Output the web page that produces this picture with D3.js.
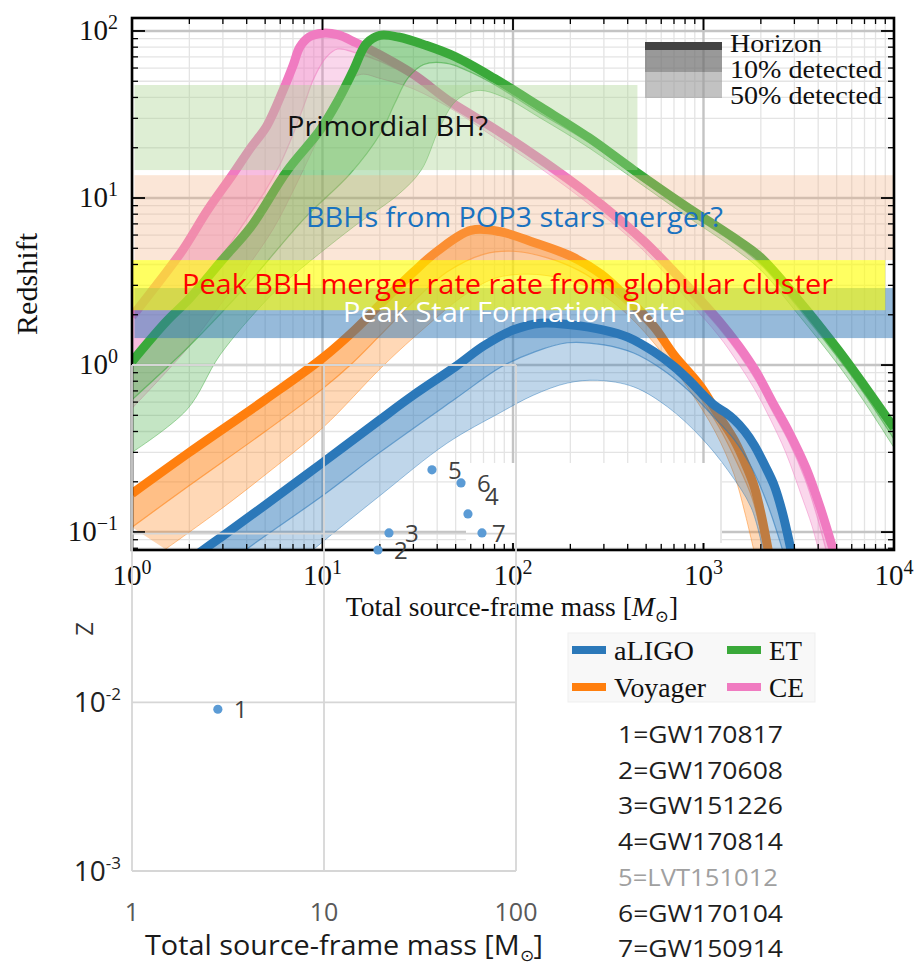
<!DOCTYPE html>
<html><head><meta charset="utf-8">
<script src="https://cdn.jsdelivr.net/npm/d3@7"></script>
<style>body{margin:0;background:#fff}svg{display:block}</style>
</head><body>
<svg id="c" width="915" height="967"></svg>
<script>
// ---------------- DATA ----------------
const massTickValues = [1, 10, 100, 1000, 10000];
const zTickValues = [0.1, 1, 10, 100];
const excelMassTicks = [1, 10, 100];
const excelZTicks = [0.001, 0.01, 0.1, 1];
const excelMassLabels = ["1", "10", "100"];

const detectors = ["aLIGO", "Voyager", "ET", "CE"];

// aLIGO
const aligoHorizonM = [2,3,5,10,20,30,50,70,100,140,200,300,400,550,700,850,1000,1150,1300,1450,1650,1850,2100,2350,2600,2900];
const aligoHorizonZ = [0.068,0.095,0.145,0.26,0.47,0.66,0.98,1.3,1.62,1.78,1.74,1.62,1.47,1.2,0.98,0.8,0.66,0.57,0.52,0.47,0.4,0.33,0.25,0.19,0.13,0.075];
const aligo10M = [2.5,4,10,20,50,86,130,193,300,430,600,826,1130,1443,1800,2200,2600];
const aligo10Z = [0.052,0.079,0.165,0.3,0.63,0.97,1.2,1.36,1.32,1.18,0.95,0.71,0.49,0.36,0.24,0.14,0.078];
const aligo50M = [5,9,20,45,86,128,193,278,430,650,968,1340,1780,2050];
const aligo50Z = [0.045,0.079,0.165,0.34,0.52,0.66,0.78,0.81,0.74,0.56,0.37,0.235,0.14,0.078];

// Voyager
const voyHorizonM = [1,2,5,10,15,20,30,40,60,85,130,200,290,400,550,700,970,1200,1450,1700,1850,2000,2200];
const voyHorizonZ = [0.17,0.3,0.62,1.1,1.65,2.3,3.6,4.8,6.4,6.3,5.4,4.5,3.5,2.5,1.7,1.15,0.74,0.5,0.355,0.24,0.186,0.13,0.075];
const voy10M = [1,2,5,10,14,20,30,45,70,100,150,220,320,450,650,900,1200,1500,1800,2100];
const voy10Z = [0.107,0.19,0.4,0.72,1.0,1.5,2.4,3.6,4.6,4.8,4.4,3.7,2.8,2.0,1.25,0.72,0.43,0.26,0.16,0.078];
const voy50M = [1.5,3,5,10,21,35,55,80,120,180,270,400,600,850,1150,1450,1650,1850];
const voy50Z = [0.079,0.14,0.22,0.42,1.0,1.7,2.6,3.3,3.5,3.3,2.8,2.0,1.2,0.7,0.4,0.22,0.13,0.075];

// ET
const etHorizonM = [1,1.5,2,3,4.2,6.5,9.7,12,14.5,17,20,25,35,50,80,140,250,430,800,1440,2000,3150,5100,7000,10000];
const etHorizonZ = [1.05,1.8,2.5,4.3,6.7,14.5,25.5,38,58,84,94,92,82,70,52,35,23,14.7,9.0,5.8,4.4,2.45,1.23,0.75,0.42];
const et10M = [1,2,4,8,14,20,24,28,34,45,70,140,250,430,800,1440,2000,3150,5100,7000,10000];
const et10Z = [0.62,1.3,3.0,7.5,14,24,37,52,63,64,52,32,21.5,13.8,8.4,5.4,4.0,2.2,1.1,0.67,0.36];
const et50M = [1,1.94,2.9,5,6.5,14.5,25,33,41,50,65,90,140,250,430,800,1440,2000,3150,5100,7000,10000];
const et50Z = [0.3,0.54,1.15,2.4,3.2,6.7,10.5,14.7,26,38,44,40,30,20,13,7.9,5.0,3.7,2.0,1.0,0.6,0.32];

// CE
const ceHorizonM = [1,1.4,1.85,2.5,3.4,4.2,5.1,6.2,7,7.6,8.5,10,12,15,20,30,48,80,140,250,480,840,1200,1530,1900,2300,2800,3460,4100,4800];
const ceHorizonZ = [1.95,3.2,4.9,8.5,14,20,27,44,62,80,92,97,95,85,72,55,37,26,17,10.5,5.6,2.9,1.85,1.3,0.9,0.6,0.4,0.24,0.14,0.078];
const ce10M = [1,1.5,2,3,4,5,6,7,8,9,10.5,12,15,20,30,50,80,140,250,480,840,1200,1530,1900,2300,2800,3400,3900,4400];
const ce10Z = [1.1,1.7,2.5,4.6,7.5,11,16,24,36,52,70,78,74,66,52,35,24.5,15.8,9.8,5.2,2.65,1.68,1.17,0.8,0.53,0.35,0.21,0.13,0.078];
const ce50M = [1,1.5,2,3,4,5.5,7,9,11,13,16,20,30,50,80,140,250,480,840,1200,1500,1850,2250,2700,3300,3700,4050];
const ce50Z = [0.55,0.9,1.3,2.4,3.8,6.5,11,20,33,48,55,52,45,33,23,15,9.2,4.9,2.4,1.5,1.05,0.72,0.47,0.3,0.16,0.11,0.075];

// Events (Excel overlay)
const eventIds = ["1","2","3","4","5","6","7"];
const eventNames = ["GW170817","GW170608","GW151226","GW170814","LVT151012","GW170104","GW150914"];
const eventMass = [2.8, 19.1, 21.8, 56.2, 36.5, 51.7, 66.5];
const eventZ = [0.0091, 0.080, 0.101, 0.131, 0.239, 0.20, 0.101];

// Annotation bands (redshift ranges)
const bandLabels = ["Primordial BH?", "BBHs from POP3 stars merger?", "Peak BBH merger rate rate from globular cluster", "Peak Star Formation Rate"];
const bandZ = [[14.7, 47.5], [4.25, 13.7], [2.13, 4.25], [1.45, 2.89]];
const bandM = [[1.03, 450], [1.03, 9900], [1.0, 9000], [1.03, 9900]];

const legendLevels = ["Horizon", "10% detected", "50% detected"];

// ---------------- DRAW ----------------
const svg = d3.select("#c");
const plot = {l:132, t:18, r:894, b:550};
const xM = d3.scaleLog().domain([1, 1e4]).range([plot.l, plot.r]);
const yM = d3.scaleLog().domain([0.0781, 119.6]).range([plot.b, plot.t]);
const xE = d3.scaleLog().domain([1, 100]).range([132, 516]);
const yE = d3.scaleLog().domain([0.001, 1]).range([871, 365]);

const serif = "'Liberation Serif','DejaVu Serif',serif";
const sans = "'Open Sans','Noto Sans',sans-serif";

svg.append("rect").attr("width",915).attr("height",967).attr("fill","#fff");
svg.append("defs").append("clipPath").attr("id","clipMain").append("rect")
  .attr("x",plot.l).attr("y",plot.t).attr("width",plot.r-plot.l).attr("height",plot.b-plot.t);

const xMinor = [], yMinor = [];
massTickValues.slice(0,-1).forEach(v => { for (let m=2;m<=9;m++) xMinor.push(v*m); });
[0.01,0.1,1,10,100].forEach(v => { for (let m=2;m<=9;m++){ const t=v*m; if(t>=0.0781 && t<=119.6) yMinor.push(t);} });

// grid
const grid = svg.append("g").attr("clip-path","url(#clipMain)");
grid.selectAll(".gxm").data(xMinor).join("line").attr("x1",d=>xM(d)).attr("x2",d=>xM(d)).attr("y1",plot.t).attr("y2",plot.b).attr("stroke","#e4e4e4").attr("stroke-width",1.3);
grid.selectAll(".gym").data(yMinor).join("line").attr("y1",d=>yM(d)).attr("y2",d=>yM(d)).attr("x1",plot.l).attr("x2",plot.r).attr("stroke","#e4e4e4").attr("stroke-width",1.3);
grid.selectAll(".gxM").data(massTickValues).join("line").attr("x1",d=>xM(d)).attr("x2",d=>xM(d)).attr("y1",plot.t).attr("y2",plot.b).attr("stroke","#c4c4c4").attr("stroke-width",2.4);
grid.selectAll(".gyM").data(zTickValues).join("line").attr("y1",d=>yM(d)).attr("y2",d=>yM(d)).attr("x1",plot.l).attr("x2",plot.r).attr("stroke","#c4c4c4").attr("stroke-width",2.4);

// curves
const line = d3.line().x(d=>xM(d[0])).y(d=>yM(d[1])).curve(d3.curveCatmullRom.alpha(0.5));
const pts = (M,Z) => M.map((m,i)=>[m,Z[i]]);
const poly = (a,b) => line(a) + line(b.slice().reverse()).replace(/^M/,"L") + "Z";

const detData = {
  aLIGO:   {h:pts(aligoHorizonM,aligoHorizonZ), d10:pts(aligo10M,aligo10Z), d50:pts(aligo50M,aligo50Z)},
  Voyager: {h:pts(voyHorizonM,voyHorizonZ),     d10:pts(voy10M,voy10Z),     d50:pts(voy50M,voy50Z)},
  ET:      {h:pts(etHorizonM,etHorizonZ),       d10:pts(et10M,et10Z),       d50:pts(et50M,et50Z)},
  CE:      {h:pts(ceHorizonM,ceHorizonZ),       d10:pts(ce10M,ce10Z),       d50:pts(ce50M,ce50Z)}
};
const detColor = {aLIGO:"#2b78b9", Voyager:"#ff7f0e", ET:"#3aa93a", CE:"#f07bc1"};
const curves = svg.append("g").attr("clip-path","url(#clipMain)");
["CE","ET","Voyager","aLIGO"].forEach(k => {
  const d = detData[k], c = detColor[k];
  const g = curves.append("g");
  g.append("path").attr("d", poly(d.d10, d.d50)).attr("fill", c).attr("fill-opacity", 0.3);
  g.append("path").attr("d", poly(d.h, d.d10)).attr("fill", c).attr("fill-opacity", 0.5);
  g.append("path").attr("d", line(d.d50)).attr("fill","none").attr("stroke",c).attr("stroke-opacity",0.45).attr("stroke-width",1);
  g.append("path").attr("d", line(d.d10)).attr("fill","none").attr("stroke",c).attr("stroke-opacity",0.6).attr("stroke-width",1.2);
  g.append("path").attr("d", line(d.h)).attr("fill","none").attr("stroke",c).attr("stroke-width",9);
});

// annotation rectangles
const bandFill = ["#a9d18e", "#f4b183", "#ffff00", "#2e75b6"];
const bandOp = [0.38, 0.32, 0.62, 0.5];
[0, 1, 3, 2].forEach(i => {
  svg.append("rect").attr("x", xM(bandM[i][0])).attr("width", xM(bandM[i][1]) - xM(bandM[i][0]))
    .attr("y", yM(bandZ[i][1])).attr("height", yM(bandZ[i][0]) - yM(bandZ[i][1]))
    .attr("fill", bandFill[i]).attr("fill-opacity", bandOp[i]);
});
const bandText = [
  {x:287, y:136, w:201, c:"#111"},
  {x:306, y:227, w:417, c:"#1a72c0"},
  {x:182, y:294, w:651, c:"#ff0000"},
  {x:343, y:322, w:342, c:"#ffffff"}
];
[3, 0, 1, 2].forEach(i => {
  svg.append("text").attr("x", bandText[i].x).attr("y", bandText[i].y)
    .attr("font-family", sans).attr("font-size", 27).attr("fill", bandText[i].c)
    .attr("textLength", bandText[i].w).attr("lengthAdjust","spacingAndGlyphs").text(bandLabels[i]);
});

// frame and ticks
const ax = svg.append("g").attr("stroke","#000");
const tick = (vals, scale, horiz, len, w) => {
  vals.forEach(v => {
    const p = scale(v);
    if (horiz) {
      ax.append("line").attr("x1",p).attr("x2",p).attr("y1",plot.b).attr("y2",plot.b-len).attr("stroke-width",w);
      ax.append("line").attr("x1",p).attr("x2",p).attr("y1",plot.t).attr("y2",plot.t+len).attr("stroke-width",w);
    } else {
      ax.append("line").attr("y1",p).attr("y2",p).attr("x1",plot.l).attr("x2",plot.l+len).attr("stroke-width",w);
      ax.append("line").attr("y1",p).attr("y2",p).attr("x1",plot.r).attr("x2",plot.r-len).attr("stroke-width",w);
    }
  });
};
tick(xMinor, xM, true, 6, 1.3);
tick(massTickValues, xM, true, 12, 1.8);
tick(yMinor, yM, false, 6, 1.3);
tick(zTickValues, yM, false, 13, 1.8);
svg.append("rect").attr("x",plot.l).attr("y",plot.t).attr("width",plot.r-plot.l).attr("height",plot.b-plot.t)
  .attr("fill","none").attr("stroke","#000").attr("stroke-width",2.6);

const expLabel = (sel, v) => {
  const e = Math.round(Math.log10(v));
  sel.append("tspan").text("10");
  sel.append("tspan").attr("dy",-11).attr("font-size",20).text(e < 0 ? "\u2212" + (-e) : String(e));
};
massTickValues.forEach(v => {
  const t = svg.append("text").attr("x", xM(v)).attr("y", 585).attr("text-anchor","middle")
    .attr("font-family",serif).attr("font-size",29).attr("fill","#111");
  expLabel(t, v);
});
zTickValues.forEach(v => {
  const t = svg.append("text").attr("x", 118).attr("y", yM(v)+9).attr("text-anchor","end")
    .attr("font-family",serif).attr("font-size",29).attr("fill","#111");
  expLabel(t, v);
});
svg.append("text").attr("transform","translate(37,284) rotate(-90)").attr("text-anchor","middle")
  .attr("font-family",serif).attr("font-size",30).attr("fill","#111")
  .attr("textLength",102).attr("lengthAdjust","spacingAndGlyphs").text("Redshift");
{
  const t = svg.append("text").attr("x",512).attr("y",616).attr("text-anchor","middle")
    .attr("font-family",serif).attr("font-size",27.5).attr("fill","#111");
  t.append("tspan").text("Total source-frame mass [");
  t.append("tspan").attr("font-style","italic").text("M");
  t.append("tspan").attr("font-size",17).attr("dy",6).text("\u2299");
  t.append("tspan").attr("dy",-6).text("]");
}

// level legend (top right)
const lg = svg.append("g");
lg.append("rect").attr("x",645).attr("y",50).attr("width",77).attr("height",22).attr("fill","#6e6e6e").attr("fill-opacity",0.7);
lg.append("rect").attr("x",645).attr("y",72).attr("width",77).attr("height",26).attr("fill","#9a9a9a").attr("fill-opacity",0.6);
lg.append("line").attr("x1",645).attr("x2",722).attr("y1",46).attr("y2",46).attr("stroke","#444").attr("stroke-width",8);
const lvlW = [92, 152, 152];
legendLevels.forEach((s,i) => {
  lg.append("text").attr("x",730).attr("y",52 + i*26).attr("font-family",serif).attr("font-size",26).attr("fill","#111")
    .attr("textLength",lvlW[i]).attr("lengthAdjust","spacingAndGlyphs").text(s);
});

// ---------------- Excel overlay ----------------
const ex = svg.append("g");
ex.append("rect").attr("x",466).attr("y",463).attr("width",256).attr("height",80).attr("fill","#fff");
ex.append("line").attr("x1",721).attr("x2",721).attr("y1",463).attr("y2",543).attr("stroke","#e0e0e0").attr("stroke-width",1.5);
ex.selectAll(".egx").data(excelMassTicks).join("line").attr("x1",d=>xE(d)).attr("x2",d=>xE(d)).attr("y1",yE(1)).attr("y2",yE(0.001))
  .attr("stroke","#d6d6d6").attr("stroke-width",1.8);
ex.selectAll(".egy").data(excelZTicks).join("line").attr("y1",d=>yE(d)).attr("y2",d=>yE(d)).attr("x1",xE(1)).attr("x2",xE(100))
  .attr("stroke","#d6d6d6").attr("stroke-width",1.8);

const nudge = {"4":[17,-9], "7":[10,9]};
eventIds.forEach((id,i) => {
  const px = xE(eventMass[i]), py = yE(eventZ[i]);
  ex.append("circle").attr("cx",px).attr("cy",py).attr("r",4.6).attr("fill","#5b9bd5");
  const o = nudge[id] || [16, 9];
  ex.append("text").attr("x",px+o[0]).attr("y",py+o[1]).attr("font-family",sans).attr("font-size",24).attr("fill","#404040").text(id);
});

excelZTicks.filter(v => v < 0.05).forEach(v => {
  const e = Math.round(Math.log10(v));
  const t = ex.append("text").attr("x",121).attr("y",yE(v)+10).attr("text-anchor","end")
    .attr("font-family",sans).attr("font-size",28).attr("fill","#222");
  t.append("tspan").text("10");
  t.append("tspan").attr("dy",-12).attr("font-size",17).text(String(e));
});
excelMassTicks.forEach((v,i) => {
  ex.append("text").attr("x",xE(v)).attr("y",921).attr("text-anchor","middle")
    .attr("font-family",sans).attr("font-size",25).attr("fill","#595959").text(excelMassLabels[i]);
});
ex.append("text").attr("transform","translate(93,629) rotate(-90)").attr("text-anchor","middle")
  .attr("font-family",sans).attr("font-size",24).attr("fill","#333").text("Z");
{
  const t = ex.append("text").attr("x",145).attr("y",955)
    .attr("font-family",sans).attr("font-size",27).attr("fill","#1a1a1a")
    .attr("textLength",398).attr("lengthAdjust","spacingAndGlyphs");
  t.append("tspan").text("Total source-frame mass [M");
  t.append("tspan").attr("font-size",16).attr("dy",6).text("\u2299");
  t.append("tspan").attr("dy",-6).text("]");
}

// detector legend
const dl = svg.append("g");
dl.append("rect").attr("x",568).attr("y",633).attr("width",247).attr("height",69).attr("fill","#f8f8f8").attr("stroke","#efefef");
const legPos = {aLIGO:[572,650], ET:[727,650], Voyager:[572,687], CE:[727,687]};
const legW = {aLIGO:80, ET:33, Voyager:92, CE:35};
detectors.forEach(k => {
  const p = legPos[k];
  dl.append("line").attr("x1",p[0]).attr("x2",p[0]+34).attr("y1",p[1]).attr("y2",p[1]).attr("stroke",detColor[k]).attr("stroke-width",8);
  dl.append("text").attr("x",p[0]+42).attr("y",p[1]+10).attr("font-family",serif).attr("font-size",27).attr("fill","#111")
    .attr("textLength",legW[k]).attr("lengthAdjust","spacingAndGlyphs").text(k);
});

// event list
eventIds.forEach((id,i) => {
  svg.append("text").attr("x",618).attr("y",743 + i*35.7).attr("font-family",sans).attr("font-size",24)
    .attr("fill", id === "5" ? "#a0a0a0" : "#1e1e1e")
    .attr("textLength", id === "5" ? 160 : 165).attr("lengthAdjust","spacingAndGlyphs")
    .text(id + "=" + eventNames[i]);
});
</script>
</body></html>
